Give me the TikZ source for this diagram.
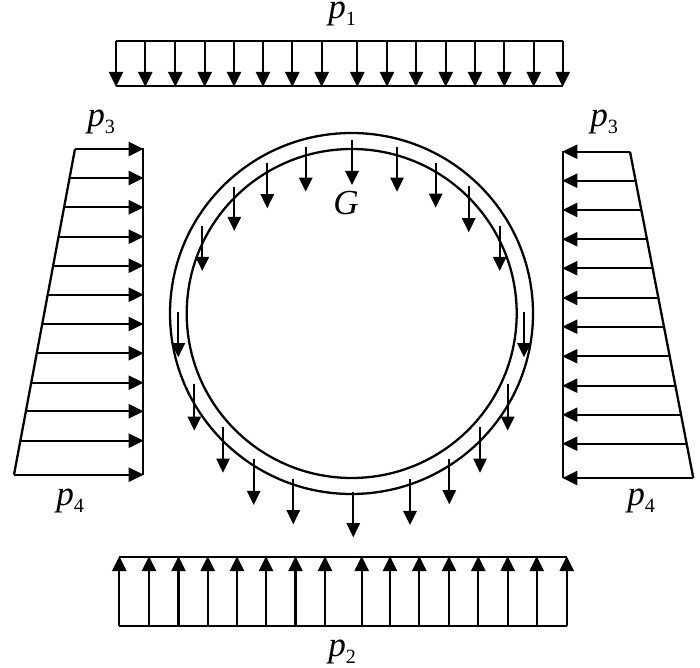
\documentclass[tikz,border=0pt]{standalone}
\usepackage{fontspec}
\setmainfont{Liberation Serif}
\usetikzlibrary{arrows.meta}
\tikzset{
    outline/.style={line width=1.3pt},
    load/.style={line width=1.3pt,-{Triangle[length=8.5pt,width=8pt]},shorten >=-0.5pt},
    dropload/.style={line width=1.3pt,-{Triangle[length=8pt,width=7.5pt]}},
    lab/.style={anchor=base west,inner sep=0pt,font=\fontsize{20}{20}\selectfont}}
\newcommand{\pres}[1]{\textit{p}\raisebox{-3.5pt}{\fontsize{11.5}{11.5}\selectfont #1}}

\begin{document}
\begin{tikzpicture}[x=0.02cm,y=-0.02cm]
    \useasboundingbox (0,0) rectangle (700,668);

    % top load
    \draw[outline] (116,41) -- (563,41);
    \draw[outline] (116,86) -- (563,86);
    \foreach \x in {116,145.3,175.3,204.7,234,263,292.3,321.7,357.3,387,416,445.7,475,504.3,533.7,562.7}
        \draw[load] (\x,41) -- (\x,86);

    % bottom load
    \draw[outline] (119,557) -- (567,557);
    \draw[outline] (119,625.7) -- (567,625.7);
    \foreach \x in {119.3,149,178.5,207.7,237,266,295.5,325,361.7,390,419.3,449,478.3,507.7,536.7,566.7}
        \draw[load] (\x,625.7) -- (\x,557);

    % left load
    \draw[outline] (142.7,148) -- (142.7,475);
    \draw[outline] (75,149) -- (14,474.7);
    \foreach \y/\x in {149/75,178/69.5,207.3/64,236.7/58.5,265.7/53,294.7/47.6,324/42,353.3/36.5,382.7/31,411.3/25.7,440.7/20.2,474.7/14}
        \draw[load] (\x,\y) -- (142.7,\y);

    % right load
    \draw[outline] (563.3,151) -- (563.3,478);
    \draw[outline] (630,151.7) -- (693.3,478);
    \foreach \y/\x in {151.7/630,180.7/635.6,210/641.3,239.3/647,268.3/652.6,298/658.4,326.7/663.9,356.3/669.7,385.7/675.4,414.7/681,443.7/686.6,478/693.3}
        \draw[load] (\x,\y) -- (563.3,\y);

    % pipe
    \draw[outline] (351.5,313.5) ellipse [x radius=181.5,y radius=180.5];
    \draw[outline] (351.7,313.5) ellipse [x radius=165,y radius=164.5];

    % self weight
    \foreach \x/\ya/\yb in {352/140/185,305.7/146.7/191.7,267.3/162.7/208.3,234.3/186.7/231,202.3/226/271,178.3/312/357.3,
        194.3/384/430.7,223/426.7/472.7,253.7/459/505,293.3/479/524.3,353.3/491.7/537.3,410/479/525,449.3/459/504.3,
        480/427.3/472.7,507.7/384/430.7,524/312/357.3,499.7/226/271,468.7/186/232.3,435.7/163.3/207.7,397/146.7/191.7}
        \draw[dropload] (\x,\ya) -- (\x,\yb);

    \node (pa)[lab] at (328,19) {\pres{1}};
    \node (pb)[lab] at (328,657) {\pres{2}};
    \node (pcl)[lab] at (87,127) {\pres{3}};
    \node (pcr)[lab] at (590,127) {\pres{3}};
    \node (pdl)[lab] at (56,506) {\pres{4}};
    \node (pdr)[lab] at (627,506) {\pres{4}};
    \node (G)[lab] at (333,215) {\textit{G}};
\end{tikzpicture}
\end{document}
